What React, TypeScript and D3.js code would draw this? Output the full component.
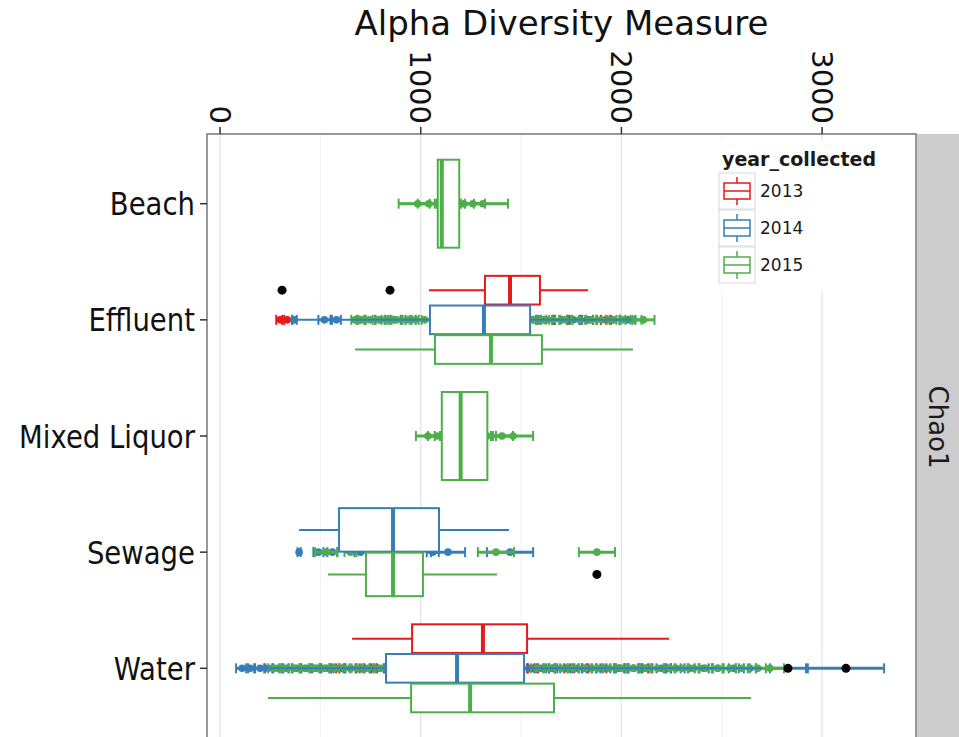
import React from 'react';
import * as d3 from 'd3';

// ---------- data ----------
const CATEGORIES = ['Beach', 'Effluent', 'Mixed Liquor', 'Sewage', 'Water'];
const YEARS = ['2013', '2014', '2015'];
const YEAR_COLORS = ['#E41A1C', '#377EB8', '#4DAF4A'];
const X_TICKS = [0, 1000, 2000, 3000];
const X_MINOR = [500, 1500, 2500];

// boxplot summary stats (one entry per category x year present)
const BOX_CATEGORY = ['Beach', 'Effluent', 'Effluent', 'Effluent', 'Mixed Liquor', 'Sewage', 'Sewage', 'Water', 'Water', 'Water'];
const BOX_YEAR = ['2015', '2013', '2014', '2015', '2015', '2014', '2015', '2013', '2014', '2015'];
const BOX_LOW = [897, 1041, 370, 673, 977, 394, 538, 658, 100, 239];
const BOX_Q1 = [1085, 1320, 1046, 1071, 1105, 593, 727, 957, 827, 952];
const BOX_MEDIAN = [1105, 1445, 1315, 1350, 1199, 862, 862, 1310, 1181, 1246];
const BOX_Q3 = [1192, 1594, 1545, 1604, 1332, 1091, 1011, 1530, 1515, 1664];
const BOX_HIGH = [1435, 1834, 2050, 2058, 1560, 1440, 1380, 2237, 2700, 2646];

// outliers [category, year, value]
const OUTLIER_CATEGORY = ['Effluent', 'Effluent', 'Sewage', 'Water', 'Water'];
const OUTLIER_YEAR = ['2013', '2013', '2015', '2014', '2014'];
const OUTLIER_VALUE = [309, 847, 1878, 2830, 3119];

// per-sample estimate [value, standard error]
const BEACH_2015 = [[985, 95], [1040, 55], [1085, 40], [1100, 30], [1115, 30], [1130, 30], [1150, 35], [1180, 40], [1215, 50], [1260, 60], [1310, 125]];
const MIXED_2015 = [[1036, 60], [1081, 45], [1110, 40], [1150, 35], [1190, 35], [1230, 40], [1280, 45], [1330, 45], [1405, 55], [1460, 100]];
const EFFLUENT_2013 = [[300, 20], [335, 25], [1100, 40], [1250, 40], [1400, 45], [1500, 40], [1620, 45], [1700, 40], [1828, 30], [1923, 25]];
const EFFLUENT_2014 = [[370, 12], [520, 30], [580, 22], [700, 20], [800, 25], [870, 30], [950, 25], [1100, 40], [1250, 40], [1400, 40], [1560, 40], [1620, 35], [1700, 30], [1760, 30], [1840, 35], [1960, 35], [2030, 40]];
const EFFLUENT_2015 = [[672, 18], [705, 22], [745, 25], [790, 30], [830, 25], [880, 30], [930, 25], [975, 30], [1020, 30], [1150, 40], [1300, 40], [1450, 40], [1560, 35], [1610, 30], [1660, 35], [1720, 30], [1790, 35], [1850, 30], [1900, 40], [1960, 35], [2010, 35], [2060, 40], [2110, 55]];
const SEWAGE_2014 = [[394, 8], [490, 25], [560, 25], [700, 30], [820, 35], [950, 30], [1060, 30], [1136, 85], [1445, 115]];
const SEWAGE_2015 = [[528, 55], [650, 30], [760, 30], [880, 30], [980, 30], [1375, 90], [1878, 90]];
const WATER_2013 = [[563, 15], [608, 15], [700, 20], [767, 15], [850, 30], [930, 30], [1010, 30], [1100, 35], [1200, 35], [1300, 35], [1400, 35], [1500, 30], [1560, 25], [1654, 15], [1740, 25], [1819, 15], [1900, 25], [1990, 25], [2060, 25], [2118, 15], [2232, 15]];
const WATER_2014 = [[110, 30], [150, 20], [200, 25], [240, 20], [290, 25], [335, 25], [380, 20], [430, 25], [480, 20], [530, 25], [590, 25], [650, 25], [720, 25], [790, 25], [850, 25], [1000, 35], [1200, 40], [1400, 40], [1540, 25], [1600, 25], [1660, 20], [1720, 25], [1780, 25], [1850, 25], [1920, 25], [1990, 25], [2060, 25], [2130, 25], [2200, 25], [2270, 25], [2340, 25], [2410, 25], [2480, 25], [2560, 25], [2640, 30], [2830, 90], [3119, 190]];
const WATER_2015 = [[270, 30], [320, 25], [370, 30], [420, 25], [470, 25], [520, 25], [570, 25], [620, 25], [680, 25], [740, 25], [800, 25], [860, 25], [1000, 40], [1200, 40], [1400, 40], [1580, 30], [1640, 25], [1700, 30], [1760, 25], [1820, 30], [1880, 25], [1940, 30], [2000, 25], [2060, 30], [2120, 25], [2180, 30], [2240, 25], [2300, 30], [2360, 25], [2420, 30], [2480, 25], [2540, 30], [2600, 30], [2680, 40], [2740, 70]];

// draw order: red first, then blue, then green on top
const SAMPLE_SETS: [string, string, number[][]][] = [
  ['Effluent', '2013', EFFLUENT_2013],
  ['Water', '2013', WATER_2013],
  ['Effluent', '2014', EFFLUENT_2014],
  ['Sewage', '2014', SEWAGE_2014],
  ['Water', '2014', WATER_2014],
  ['Beach', '2015', BEACH_2015],
  ['Mixed Liquor', '2015', MIXED_2015],
  ['Effluent', '2015', EFFLUENT_2015],
  ['Sewage', '2015', SEWAGE_2015],
  ['Water', '2015', WATER_2015],
];

// ---------- layout ----------
const W = 959;
const H = 737;
const PANEL = { left: 207, right: 916, top: 134, bottom: 738 };
const STRIP = { left: 917, right: 959 };
const DODGE_WIDTH = 89;
const FONT = "'DejaVu Sans', sans-serif";

export default function App() {
  const x = d3.scaleLinear().domain([-65, 3468]).range([PANEL.left, PANEL.right]);
  const y = d3.scalePoint<string>().domain(CATEGORIES).range([PANEL.top, PANEL.bottom]).padding(0.6);
  const color = d3.scaleOrdinal<string, string>().domain(YEARS).range(YEAR_COLORS);

  const groupsIn = (cat: string) => BOX_CATEGORY.map((c, i) => (c === cat ? BOX_YEAR[i] : null)).filter(Boolean) as string[];
  const dodgeY = (cat: string, year: string) => {
    const gs = groupsIn(cat);
    const n = gs.length;
    const idx = gs.indexOf(year);
    const bw = DODGE_WIDTH / n;
    return { cy: (y(cat) as number) - DODGE_WIDTH / 2 + (idx + 0.5) * bw, bw };
  };

  const capH = 10;

  return (
    <svg width={W} height={H} style={{ position: 'absolute', left: 0, top: 0, background: '#fff' }} fontFamily={FONT}>
      {/* panel background */}
      <rect x={PANEL.left} y={PANEL.top} width={PANEL.right - PANEL.left} height={PANEL.bottom - PANEL.top} fill="#ffffff" />
      {X_MINOR.map((t) => (
        <line key={'mn' + t} x1={x(t)} x2={x(t)} y1={PANEL.top} y2={PANEL.bottom} stroke="#f3f3f3" strokeWidth={1.2} />
      ))}
      {X_TICKS.map((t) => (
        <line key={'mj' + t} x1={x(t)} x2={x(t)} y1={PANEL.top} y2={PANEL.bottom} stroke="#e6e6e6" strokeWidth={1.4} />
      ))}

      {/* legend background (inside panel) */}
      <rect x={708} y={140} width={200} height={150} fill="#ffffff" />

      {/* per-sample error bars and points */}
      {SAMPLE_SETS.map(([cat, year, pts]) => {
        const cy = y(cat) as number;
        const col = color(year);
        return (
          <g key={cat + year}>
            {pts.map(([v, se], i) => (
              <g key={i}>
                <line x1={x(v - se)} x2={x(v + se)} y1={cy} y2={cy} stroke={col} strokeWidth={3} />
                <line x1={x(v - se)} x2={x(v - se)} y1={cy - capH / 2} y2={cy + capH / 2} stroke={col} strokeWidth={2} />
                <line x1={x(v + se)} x2={x(v + se)} y1={cy - capH / 2} y2={cy + capH / 2} stroke={col} strokeWidth={2} />
                <circle cx={x(v)} cy={cy} r={3.8} fill={col} />
              </g>
            ))}
          </g>
        );
      })}

      {/* boxplots */}
      {BOX_CATEGORY.map((cat, i) => {
        const year = BOX_YEAR[i];
        const { cy, bw } = dodgeY(cat, year);
        const col = color(year);
        const h = bw - 1;
        return (
          <g key={'box' + i}>
            <line x1={x(BOX_LOW[i])} x2={x(BOX_Q1[i])} y1={cy} y2={cy} stroke={col} strokeWidth={2} />
            <line x1={x(BOX_Q3[i])} x2={x(BOX_HIGH[i])} y1={cy} y2={cy} stroke={col} strokeWidth={2} />
            <rect x={x(BOX_Q1[i])} y={cy - h / 2} width={x(BOX_Q3[i]) - x(BOX_Q1[i])} height={h} fill="#ffffff" stroke={col} strokeWidth={2} />
            <line x1={x(BOX_MEDIAN[i])} x2={x(BOX_MEDIAN[i])} y1={cy - h / 2} y2={cy + h / 2} stroke={col} strokeWidth={4} />
          </g>
        );
      })}

      {/* outliers */}
      {OUTLIER_VALUE.map((v, i) => {
        const { cy } = dodgeY(OUTLIER_CATEGORY[i], OUTLIER_YEAR[i]);
        return <circle key={'o' + i} cx={x(v)} cy={cy} r={4.5} fill="#000" />;
      })}

      {/* legend */}
      <g>
        <text x={722} y={166} fontSize={19} fontWeight="bold" fill="#1a1a1a">year_collected</text>
        {YEARS.map((yr, i) => {
          const ky = 173 + i * 37;
          const col = color(yr);
          return (
            <g key={'lg' + yr}>
              <rect x={719} y={ky} width={36} height={36} fill="#ffffff" stroke="#d9d9d9" strokeWidth={1} />
              <line x1={737} x2={737} y1={ky + 4} y2={ky + 32} stroke={col} strokeWidth={1.5} />
              <rect x={724} y={ky + 10} width={26} height={16} fill="#ffffff" stroke={col} strokeWidth={1.5} />
              <line x1={724} x2={750} y1={ky + 18} y2={ky + 18} stroke={col} strokeWidth={1.5} />
              <text x={760} y={ky + 24} fontSize={17} fill="#1a1a1a">{yr}</text>
            </g>
          );
        })}
      </g>

      {/* panel border */}
      <rect x={PANEL.left} y={PANEL.top} width={PANEL.right - PANEL.left} height={PANEL.bottom - PANEL.top} fill="none" stroke="#7f7f7f" strokeWidth={1.6} />

      {/* strip */}
      <rect x={STRIP.left} y={PANEL.top} width={STRIP.right - STRIP.left} height={PANEL.bottom - PANEL.top} fill="#cccccc" />
      <text transform={`translate(${(STRIP.left + STRIP.right) / 2},${(PANEL.top + PANEL.bottom) / 2 - 9}) rotate(90)`} textAnchor="middle" dy="0.35em" fontSize={26} fill="#1a1a1a">Chao1</text>

      {/* y axis */}
      {CATEGORIES.map((c) => (
        <g key={'yt' + c}>
          <line x1={PANEL.left - 7} x2={PANEL.left} y1={y(c)} y2={y(c)} stroke="#333" strokeWidth={1.5} />
          <g transform={`translate(${PANEL.left - 12},${y(c)}) scale(0.86,1)`}>
            <text textAnchor="end" dy="0.36em" fontSize={32} fill="#111">{c}</text>
          </g>
        </g>
      ))}

      {/* x axis on top */}
      {X_TICKS.map((t) => (
        <g key={'xt' + t}>
          <line x1={x(t)} x2={x(t)} y1={PANEL.top - 7} y2={PANEL.top} stroke="#333" strokeWidth={1.5} />
          <g transform={`translate(${x(t)},${PANEL.top - 10}) rotate(90)`}>
            <text textAnchor="end" dy="0.36em" fontSize={29} fill="#111">{t}</text>
          </g>
        </g>
      ))}

      {/* title */}
      <text x={(PANEL.left + PANEL.right) / 2} y={35} textAnchor="middle" fontSize={34} fill="#111">Alpha Diversity Measure</text>
    </svg>
  );
}
